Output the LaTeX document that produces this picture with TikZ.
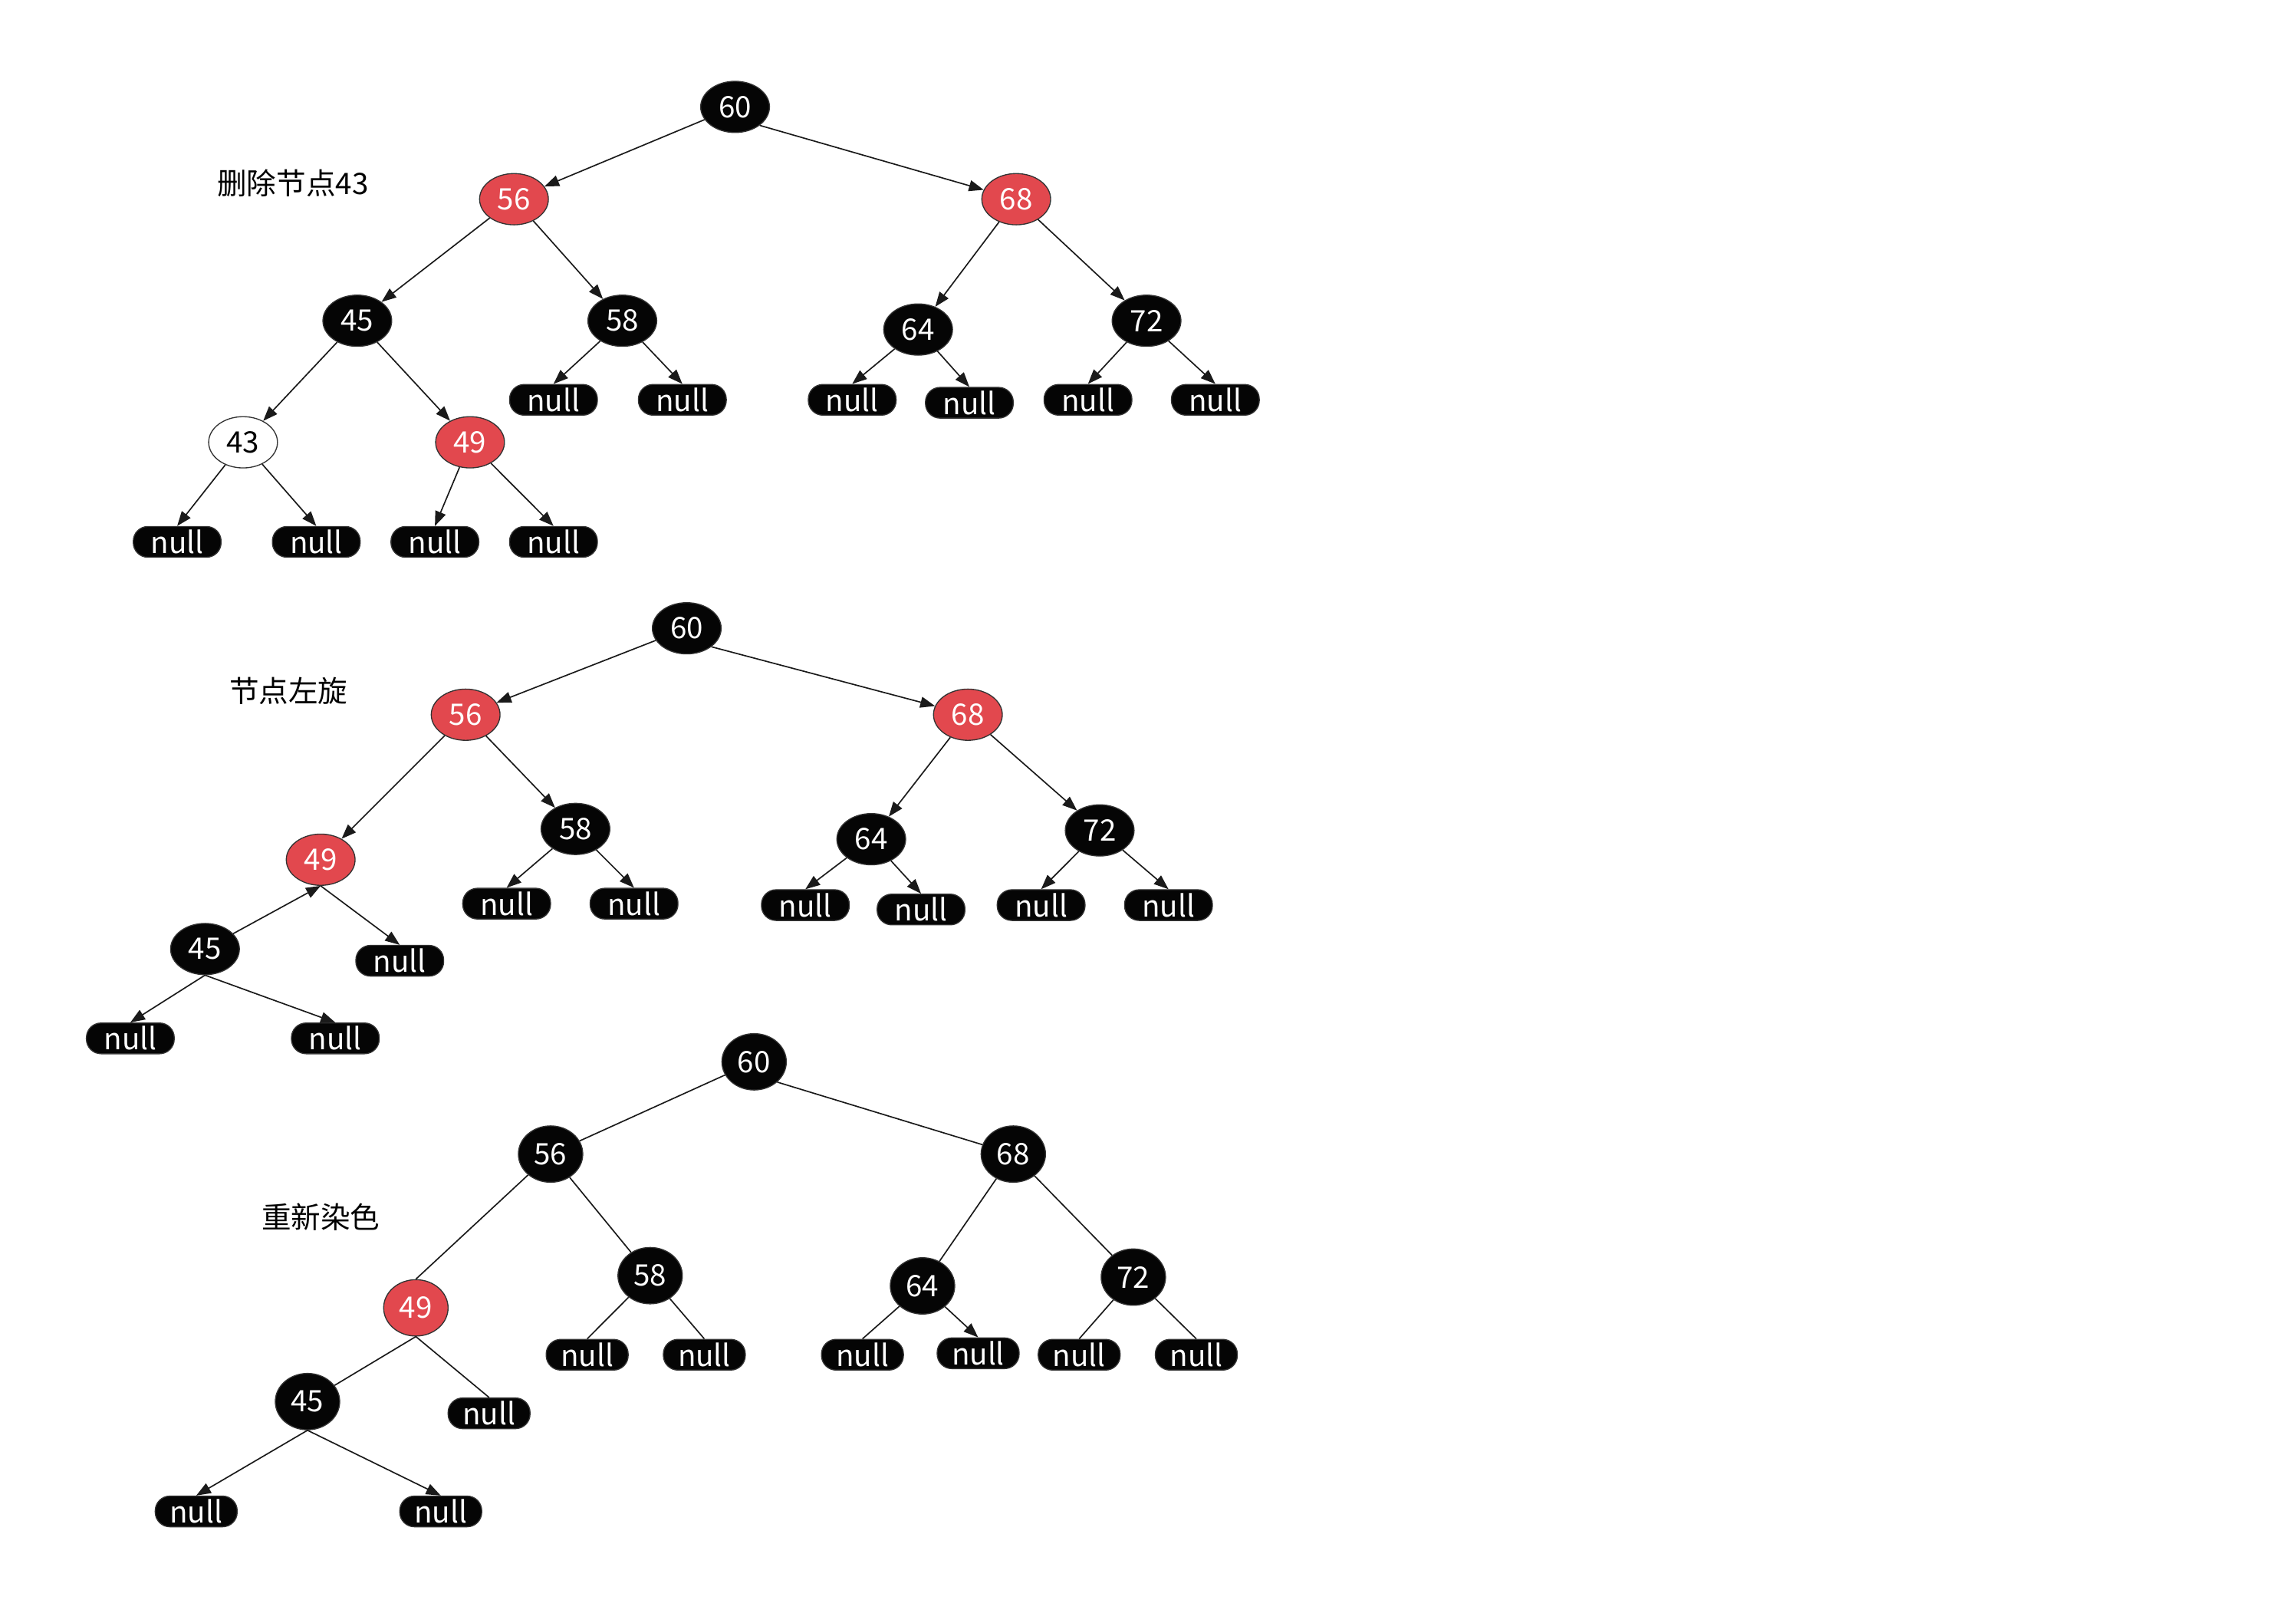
\documentclass[tikz,border=0pt]{standalone}
\usepackage{fontspec}
\setmainfont{Noto Sans CJK SC}
\usetikzlibrary{shapes.geometric,arrows.meta}
\definecolor{nodeblack}{HTML}{050505}
\definecolor{nodered}{HTML}{E2484E}
\definecolor{edgec}{HTML}{333333}
\definecolor{linec}{HTML}{1A1A1A}
\newcommand{\fsz}{\fontsize{11.5pt}{13pt}\selectfont}
\tikzset{
  tnode/.style={ellipse, draw=edgec, line width=0.4pt, minimum width=0.94cm, minimum height=0.70cm, inner sep=0pt, font=\fsz},
  bnode/.style={tnode, fill=nodeblack, text=white},
  rnode/.style={tnode, fill=nodered, text=white},
  wnode/.style={tnode, fill=white, text=black},
  cnode/.style={minimum width=0.88cm, minimum height=0.77cm},
  nnode/.style={rectangle, rounded corners=0.2cm, fill=nodeblack, draw=edgec, line width=0.4pt, text=white, minimum width=1.2cm, minimum height=0.42cm, inner sep=0pt, font=\fsz},
  nnodec/.style={nnode, minimum width=1.12cm},
  lbl/.style={font=\fsz, text=black, inner sep=0pt},
  arr/.style={draw=linec, line width=0.5pt, -{Triangle[length=0.2cm,width=0.15cm]}},
  ln/.style={draw=linec, line width=0.5pt}
}
\begin{document}
\begin{tikzpicture}[x=0.02cm, y=-0.02cm]
\useasboundingbox (0,0) rectangle (1568,1108);

% ---------------- Tree 1 ----------------
\node[lbl] (l1) at (200,125) {删除节点43};
\node[bnode] (a60) at (502,73) {60};
\node[rnode] (a56) at (351,136) {56};
\node[rnode] (a68) at (694,136) {68};
\node[bnode] (a45) at (244,219) {45};
\node[bnode] (a58) at (425,219) {58};
\node[bnode] (a64) at (627,225) {64};
\node[bnode] (a72) at (783,219) {72};
\node[wnode] (a43) at (166,302) {43};
\node[rnode] (a49) at (321,302) {49};
\node[nnode] (an1) at (378,273) {null};
\node[nnode] (an2) at (466,273) {null};
\node[nnode] (an3) at (582,273) {null};
\node[nnode] (an4) at (662,275) {null};
\node[nnode] (an5) at (743,273) {null};
\node[nnode] (an6) at (830,273) {null};
\node[nnode] (an7) at (121,370) {null};
\node[nnode] (an8) at (216,370) {null};
\node[nnode] (an9) at (297,370) {null};
\node[nnode] (an10) at (378,370) {null};
\draw[arr] (a60) -- (a56);
\draw[arr] (a60.south east) -- (a68);
\draw[arr] (a56) -- (a45);
\draw[arr] (a56) -- (a58);
\draw[arr] (a68) -- (a64);
\draw[arr] (a68) -- (a72);
\draw[arr] (a45) -- (a43);
\draw[arr] (a45) -- (a49);
\draw[arr] (a58) -- (an1.north);
\draw[arr] (a58) -- (an2.north);
\draw[arr] (a64) -- (an3.north);
\draw[arr] (a64) -- (an4.north);
\draw[arr] (a72) -- (an5.north);
\draw[arr] (a72) -- (an6.north);
\draw[arr] (a43) -- (an7.north);
\draw[arr] (a43) -- (an8.north);
\draw[arr] (a49) -- (an9.north);
\draw[arr] (a49) -- (an10.north);

% ---------------- Tree 2 ----------------
\node[lbl] (l2) at (197,472) {节点左旋};
\node[bnode] (b60) at (469,429) {60};
\node[rnode] (b56) at (318,488) {56};
\node[rnode] (b68) at (661,488) {68};
\node[bnode] (b58) at (393,566) {58};
\node[bnode] (b64) at (595,573) {64};
\node[bnode] (b72) at (751,567) {72};
\node[rnode] (b49) at (219,587) {49};
\node[bnode] (b45) at (140,648) {45};
\node[nnode] (bn1) at (346,617) {null};
\node[nnode] (bn2) at (433,617) {null};
\node[nnode] (bn3) at (550,618) {null};
\node[nnode] (bn4) at (629,621) {null};
\node[nnode] (bn5) at (711,618) {null};
\node[nnode] (bn6) at (798,618) {null};
\node[nnode] (bn7) at (273,656) {null};
\node[nnode] (bn8) at (89,709) {null};
\node[nnode] (bn9) at (229,709) {null};
\draw[arr] (b60) -- (b56);
\draw[arr] (b60.south east) -- (b68);
\draw[arr] (b56) -- (b49);
\draw[arr] (b56) -- (b58);
\draw[arr] (b68) -- (b64);
\draw[arr] (b68) -- (b72);
\draw[arr] (b58) -- (bn1.north);
\draw[arr] (b58) -- (bn2.north);
\draw[arr] (b64) -- (bn3.north);
\draw[arr] (b64) -- (bn4.north);
\draw[arr] (b72) -- (bn5.north);
\draw[arr] (b72) -- (bn6.north);
\draw[arr] (b45) -- (b49.south);
\draw[arr] (b49.south) -- (bn7.north);
\draw[arr] (b45.south) -- (bn8.north);
\draw[arr] (b45.south) -- (bn9.north);

% ---------------- Tree 3 ----------------
\node[lbl] (l3) at (219,831) {重新染色};
\node[bnode,cnode] (c60) at (515,725) {60};
\node[bnode,cnode] (c56) at (376,788) {56};
\node[bnode,cnode] (c68) at (692,788) {68};
\node[bnode,cnode] (c58) at (444,871) {58};
\node[bnode,cnode] (c64) at (630,878) {64};
\node[bnode,cnode] (c72) at (774,872) {72};
\node[rnode,cnode] (c49) at (284,893) {49};
\node[bnode,cnode] (c45) at (210,957) {45};
\node[nnodec] (cn1) at (401,925) {null};
\node[nnodec] (cn2) at (481,925) {null};
\node[nnodec] (cn3) at (589,925) {null};
\node[nnodec] (cn4) at (668,924) {null};
\node[nnodec] (cn5) at (737,925) {null};
\node[nnodec] (cn6) at (817,925) {null};
\node[nnodec] (cn7) at (334,965) {null};
\node[nnodec] (cn8) at (134,1032) {null};
\node[nnodec] (cn9) at (301,1032) {null};
\draw[ln] (c60) -- (c56);
\draw[ln] (c60.south east) -- (c68);
\draw[ln] (c56) -- (c49.north);
\draw[ln] (c56) -- (c58);
\draw[ln] (c68) -- (c64);
\draw[ln] (c68) -- (c72);
\draw[ln] (c58) -- (cn1.north);
\draw[ln] (c58) -- (cn2.north);
\draw[ln] (c64) -- (cn3.north);
\draw[arr] (c64) -- (cn4.north);
\draw[ln] (c72) -- (cn5.north);
\draw[ln] (c72) -- (cn6.north);
\draw[ln] (c49.south) -- (c45);
\draw[ln] (c49.south) -- (cn7.north);
\draw[arr] (c45.south) -- (cn8.north);
\draw[arr] (c45.south) -- (cn9.north);
\end{tikzpicture}
\end{document}
